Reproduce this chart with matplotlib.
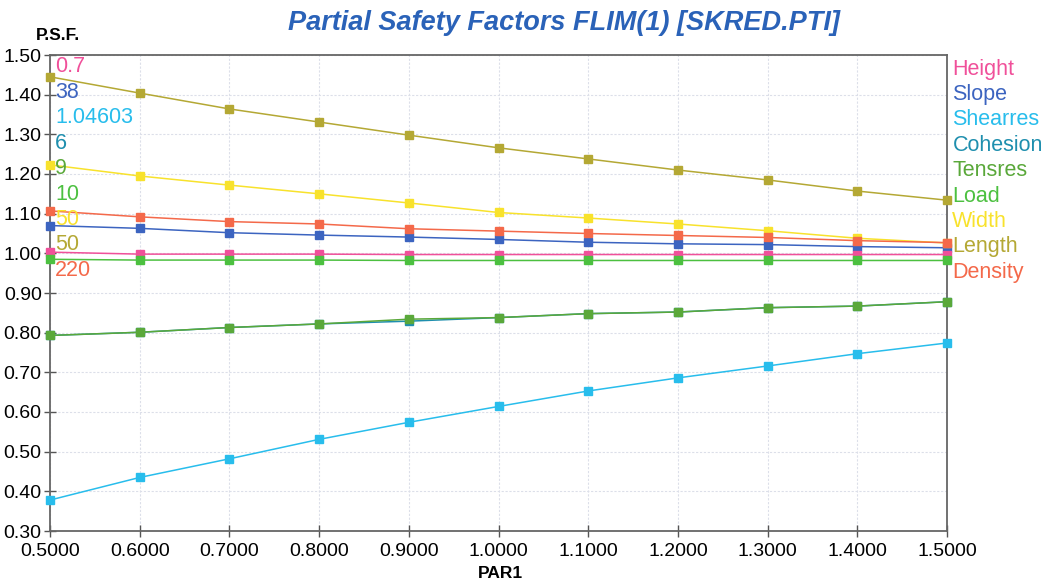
import matplotlib
matplotlib.use('Agg')
import matplotlib.pyplot as plt
import numpy as np

par1 = [0.5, 0.6, 0.7, 0.8, 0.9, 1.0, 1.1, 1.2, 1.3, 1.4, 1.5]

height = [1.003, 0.998, 0.998, 0.998, 0.997, 0.997, 0.997, 0.997, 0.997, 0.997, 0.997]
slope = [1.070, 1.063, 1.052, 1.046, 1.041, 1.035, 1.028, 1.024, 1.022, 1.017, 1.014]
shearres = [0.378, 0.435, 0.482, 0.531, 0.574, 0.614, 0.653, 0.686, 0.716, 0.747, 0.774]
cohesion = [0.793, 0.801, 0.813, 0.822, 0.829, 0.838, 0.848, 0.852, 0.863, 0.867, 0.878]
tensres = [0.793, 0.801, 0.813, 0.822, 0.834, 0.838, 0.848, 0.852, 0.863, 0.867, 0.878]
load = [0.985, 0.983, 0.983, 0.983, 0.982, 0.982, 0.982, 0.982, 0.982, 0.982, 0.982]
width = [1.223, 1.195, 1.172, 1.150, 1.127, 1.103, 1.089, 1.074, 1.057, 1.038, 1.026]
length = [1.445, 1.404, 1.364, 1.331, 1.298, 1.266, 1.238, 1.210, 1.185, 1.157, 1.134]
density = [1.107, 1.092, 1.080, 1.074, 1.062, 1.056, 1.050, 1.045, 1.040, 1.032, 1.027]

names = ['Height', 'Slope', 'Shearres', 'Cohesion', 'Tensres', 'Load', 'Width', 'Length', 'Density']
base_values = ['0.7', '38', '1.04603', '6', '9', '10', '50', '50', '220']
colors = ['#f0509a', '#3c64c0', '#28bdec', '#1f8fae', '#5aa83a', '#4cc040', '#f8e22c', '#b4a834', '#f4694a']
series = [height, slope, shearres, cohesion, tensres, load, width, length, density]

yticks = [0.30, 0.40, 0.50, 0.60, 0.70, 0.80, 0.90, 1.00, 1.10, 1.20, 1.30, 1.40, 1.50]
xticks = [0.5, 0.6, 0.7, 0.8, 0.9, 1.0, 1.1, 1.2, 1.3, 1.4, 1.5]

FONT = ['Liberation Sans', 'DejaVu Sans']

fig = plt.figure(figsize=(10.46, 5.81), dpi=100)
ax = fig.add_axes([50 / 1046, 1 - 531 / 581, 897 / 1046, 476 / 581])

# draw order: hidden ones first so the visible ones sit on top
order = [3, 1, 7, 6, 8, 0, 5, 4, 2]
for i in order:
    ax.plot(par1, series[i], color=colors[i], lw=1.1, marker='s', ms=6,
            mec=colors[i], mfc=colors[i], clip_on=False, zorder=3)

ax.set_xlim(0.5, 1.5)
ax.set_ylim(0.3, 1.5)
ax.set_xticks(xticks)
ax.set_yticks(yticks)
ax.set_xticklabels(['%.4f' % v for v in xticks], family=FONT, fontsize=14)
ax.set_yticklabels(['%.2f' % v for v in yticks], family=FONT, fontsize=14)
ax.tick_params(axis='both', direction='inout', length=8, width=1, color='#555555', pad=2)
ax.tick_params(axis='x', pad=5)
ax.grid(True, color='#dcdfe9', lw=0.8, ls=(0, (2, 1.5)))
ax.set_axisbelow(True)
for s in ax.spines.values():
    s.set_color('#666666')
    s.set_linewidth(1.3)

# series names on the right
for k, (n, c) in enumerate(zip(names, colors)):
    ax.text(1.006, (531 - 69 - k * 25.4) / 476, n, transform=ax.transAxes,
            color=c, fontsize=15.5, family=FONT, va='center', ha='left')

# base values on the left inside the plot
for k, (v, c) in enumerate(zip(base_values, colors)):
    ax.text(5 / 897, (531 - 67 - k * 25.4) / 476, v, transform=ax.transAxes,
            color=c, fontsize=15.5, family=FONT, va='center', ha='left')

fig.text(564 / 1046, 1 - 23 / 581, 'Partial Safety Factors FLIM(1) [SKRED.PTI]',
         color='#2a62b8', fontsize=19.5, fontweight='bold', fontstyle='italic',
         family=FONT, ha='center', va='center')
fig.text(58 / 1046, 1 - 36 / 581, 'P.S.F.', fontsize=12.5, fontweight='bold',
         family=FONT, ha='center', va='center')
fig.text(500 / 1046, 1 - 573 / 581, 'PAR1', fontsize=12.5, fontweight='bold',
         family=FONT, ha='center', va='center')

fig.savefig('out.png', dpi=100)
